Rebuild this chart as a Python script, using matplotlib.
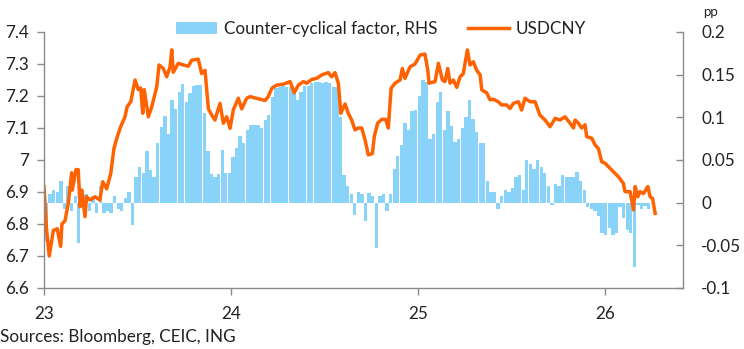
import matplotlib
matplotlib.use("Agg")
import matplotlib.pyplot as plt
from matplotlib.patches import Patch
from matplotlib.lines import Line2D
from matplotlib.ticker import FuncFormatter, MultipleLocator
import numpy as np
import pandas as pd

plt.rcParams["font.family"] = ["Lato", "DejaVu Sans"]

ORANGE = "#FF6200"
BLUE = "#89D3F8"
SPINE = "#8a8a8a"
TXT = "#222222"

# USDCNY, time in decimal years (23.0 = 1 Jan 2023)
t_fx = [23.000, 23.014, 23.028, 23.050, 23.071, 23.089, 23.096, 23.112, 23.130, 23.148,
        23.151, 23.171, 23.183, 23.193, 23.202, 23.219, 23.228, 23.246, 23.273, 23.299,
        23.314, 23.335, 23.357, 23.374, 23.392, 23.410, 23.433, 23.445, 23.464, 23.487,
        23.504, 23.517, 23.528, 23.536, 23.558, 23.576, 23.603, 23.615, 23.638, 23.656,
        23.674, 23.683, 23.691, 23.718, 23.745, 23.772, 23.790, 23.825, 23.843, 23.861,
        23.879, 23.897, 23.914, 23.941, 23.959, 23.977, 23.995, 24.012, 24.039, 24.057,
        24.084, 24.102, 24.155, 24.182, 24.199, 24.218, 24.244, 24.280, 24.316, 24.338,
        24.360, 24.387, 24.405, 24.432, 24.458, 24.485, 24.520, 24.538, 24.556, 24.574,
        24.587, 24.610, 24.627, 24.645, 24.663, 24.681, 24.699, 24.717, 24.734, 24.756,
        24.766, 24.784, 24.806, 24.827, 24.841, 24.856, 24.877, 24.904, 24.916, 24.930,
        24.957, 24.984, 25.011, 25.037, 25.052, 25.059, 25.091, 25.109, 25.130, 25.144,
        25.159, 25.171, 25.189, 25.207, 25.225, 25.242, 25.264, 25.278, 25.296, 25.314,
        25.332, 25.341, 25.367, 25.385, 25.403, 25.429, 25.447, 25.474, 25.492, 25.510,
        25.537, 25.554, 25.572, 25.599, 25.626, 25.652, 25.679, 25.706, 25.733, 25.759,
        25.786, 25.813, 25.831, 25.840, 25.857, 25.875, 25.893, 25.902, 25.929, 25.947,
        25.964, 25.982, 26.000, 26.018, 26.045, 26.071, 26.098, 26.107, 26.134, 26.152,
        26.161, 26.175, 26.187, 26.205, 26.229, 26.241, 26.254, 26.268]
usdcny = [6.917, 6.780, 6.700, 6.780, 6.785, 6.730, 6.800, 6.810, 6.865, 6.960,
          6.906, 6.970, 6.970, 6.854, 6.906, 6.823, 6.885, 6.875, 6.885, 6.875,
          6.932, 6.910, 6.958, 7.036, 7.073, 7.104, 7.135, 7.167, 7.182, 7.250,
          7.220, 7.225, 7.146, 7.220, 7.135, 7.166, 7.229, 7.297, 7.286, 7.260,
          7.291, 7.344, 7.274, 7.302, 7.297, 7.293, 7.312, 7.315, 7.270, 7.280,
          7.160, 7.140, 7.125, 7.177, 7.115, 7.135, 7.099, 7.156, 7.193, 7.160,
          7.193, 7.198, 7.190, 7.186, 7.198, 7.224, 7.234, 7.237, 7.245, 7.210,
          7.234, 7.245, 7.240, 7.252, 7.255, 7.266, 7.273, 7.260, 7.273, 7.240,
          7.146, 7.175, 7.146, 7.125, 7.094, 7.100, 7.100, 7.062, 7.016, 7.020,
          7.073, 7.115, 7.127, 7.127, 7.100, 7.224, 7.240, 7.250, 7.286, 7.255,
          7.291, 7.300, 7.328, 7.331, 7.281, 7.240, 7.245, 7.302, 7.250, 7.245,
          7.286, 7.240, 7.250, 7.227, 7.260, 7.270, 7.344, 7.297, 7.307, 7.280,
          7.266, 7.219, 7.210, 7.188, 7.190, 7.182, 7.172, 7.172, 7.161, 7.177,
          7.182, 7.156, 7.193, 7.182, 7.182, 7.140, 7.125, 7.104, 7.130, 7.125,
          7.135, 7.115, 7.100, 7.125, 7.115, 7.100, 7.110, 7.073, 7.068, 7.047,
          7.036, 6.995, 6.990, 6.979, 6.963, 6.948, 6.927, 6.901, 6.901, 6.844,
          6.917, 6.885, 6.901, 6.895, 6.917, 6.885, 6.880, 6.833]

# counter-cyclical factor (pp), weekly from 6 Jan 2023
ccf_start = "2023-01-06"
ccf = [-0.045, 0.010, 0.015, 0.012, 0.025, -0.008, 0.020, -0.010, 0.008, -0.047,
       0.015, 0.010, -0.010, 0.008, -0.012, 0.019, -0.012, -0.010, -0.012, 0.008,
       -0.008, -0.010, 0.006, 0.013, -0.026, 0.030, 0.042, 0.035, 0.060, 0.038,
       0.030, 0.070, 0.089, 0.101, 0.080, 0.120, 0.110, 0.130, 0.139, 0.118,
       0.128, 0.137, 0.138, 0.138, 0.105, 0.060, 0.034, 0.030, 0.034, 0.062,
       0.035, 0.035, 0.054, 0.064, 0.078, 0.070, 0.085, 0.091, 0.091, 0.091,
       0.088, 0.097, 0.103, 0.124, 0.134, 0.136, 0.137, 0.136, 0.135, 0.130,
       0.120, 0.130, 0.137, 0.137, 0.140, 0.141, 0.141, 0.140, 0.141, 0.140,
       0.135, 0.136, 0.100, 0.032, 0.020, 0.010, -0.014, 0.012, 0.010, -0.022,
       0.011, 0.008, -0.053, 0.008, 0.010, -0.010, 0.010, 0.040, 0.055, 0.068,
       0.093, 0.085, 0.107, 0.109, 0.125, 0.144, 0.141, 0.075, 0.080, 0.118,
       0.130, 0.085, 0.108, 0.090, 0.071, 0.075, 0.088, 0.100, 0.120, 0.098,
       0.083, 0.070, 0.070, 0.025, 0.012, 0.012, -0.008, 0.008, 0.015, 0.012,
       0.017, 0.030, 0.032, 0.015, 0.050, 0.045, 0.040, 0.050, 0.042, 0.035,
       0.020, -0.003, 0.022, 0.020, 0.033, 0.030, 0.030, 0.030, 0.036, 0.025,
       0.015, -0.005, -0.008, -0.010, -0.016, -0.035, -0.038, -0.030, -0.038, -0.035,
       -0.005, -0.018, -0.032, -0.036, -0.075, -0.003, -0.008, -0.004, -0.008, -0.002]

x_ticks = ["2023-01-01", "2024-01-01", "2025-01-01", "2026-01-01"]
x_labels = ["23", "24", "25", "26"]


def to_dates(t):
    return pd.Timestamp("2023-01-01") + pd.to_timedelta((np.array(t) - 23) * 365.25, unit="D")


fx_dates = to_dates(t_fx)
ccf_dates = pd.date_range(ccf_start, periods=len(ccf), freq="7D")

fig = plt.figure(figsize=(7.44, 3.49), dpi=100)
ax = fig.add_axes([44 / 744, 61 / 349, 639 / 744, 256 / 349])
ax2 = ax.twinx()

ax2.bar(ccf_dates, ccf, width=6.5, color=BLUE, linewidth=0)
ax.plot(fx_dates, usdcny, color=ORANGE, lw=2.5, solid_joinstyle="round")

# line above the bars
ax.set_zorder(ax2.get_zorder() + 1)
ax.patch.set_visible(False)

ax.set_xlim(pd.Timestamp("2023-01-01"), pd.Timestamp("2026-06-02"))
ax.set_ylim(6.6, 7.4)
ax2.set_ylim(-0.1, 0.2)
ax.yaxis.set_major_locator(MultipleLocator(0.1))
ax2.yaxis.set_major_locator(MultipleLocator(0.05))
fmt = FuncFormatter(lambda v, p: f"{round(v, 3):g}")
ax.yaxis.set_major_formatter(fmt)
ax2.yaxis.set_major_formatter(fmt)
ax.set_xticks(pd.to_datetime(x_ticks))
ax.set_xticklabels(x_labels)

for a in (ax, ax2):
    a.spines["top"].set_visible(False)
    for s in ("left", "right", "bottom"):
        a.spines[s].set_color(SPINE)
        a.spines[s].set_linewidth(1.0)
ax.spines["right"].set_visible(False)
ax2.spines["left"].set_visible(False)
ax2.spines["bottom"].set_visible(False)

ax.tick_params(axis="y", direction="out", length=5, width=1, color=SPINE,
               labelsize=12.3, labelcolor=TXT, pad=6)
ax.tick_params(axis="x", direction="out", length=5, width=1, color=SPINE,
               labelsize=12.3, labelcolor=TXT, pad=8)
ax2.tick_params(axis="y", direction="in", length=5, width=1, color=SPINE,
                labelsize=12.3, labelcolor=TXT, pad=13)

fig.text(710 / 744, 1 - 12 / 349, "pp", ha="center", va="center", fontsize=9.5, color=TXT)
fig.text(0.0, 1 - 337 / 349, "Sources: Bloomberg, CEIC, ING", ha="left", va="center",
         fontsize=12.3, color=TXT)

handles = [Patch(facecolor=BLUE, edgecolor="none"),
           Line2D([], [], color=ORANGE, lw=2.5)]
fig.legend(handles, ["Counter-cyclical factor, RHS", "USDCNY"], ncol=2, frameon=False,
           loc="center", bbox_to_anchor=(381 / 744, 1 - 29 / 349), fontsize=12.3,
           handlelength=2.4, handletextpad=0.4, columnspacing=1.8, labelcolor=TXT)

fig.savefig("out.png", dpi=100)
